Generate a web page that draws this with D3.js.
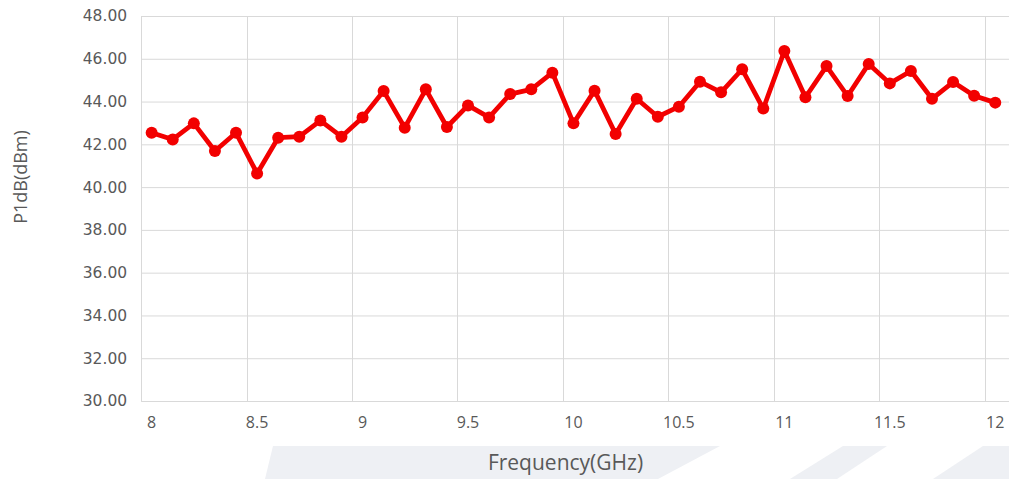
<!DOCTYPE html>
<html>
<head>
<meta charset="utf-8">
<script src="https://cdn.jsdelivr.net/npm/d3@7"></script>
<style>
  html, body { margin: 0; padding: 0; background: #ffffff; }
  svg { display: block; }
</style>
</head>
<body>
<svg id="chart" width="1009" height="479"></svg>
<script>
// ---- data ----
const frequencies = ["8","8.1","8.2","8.3","8.4","8.5","8.6","8.7","8.8","8.9",
  "9","9.1","9.2","9.3","9.4","9.5","9.6","9.7","9.8","9.9",
  "10","10.1","10.2","10.3","10.4","10.5","10.6","10.7","10.8","10.9",
  "11","11.1","11.2","11.3","11.4","11.5","11.6","11.7","11.8","11.9","12"];
const p1dB = [42.54, 42.23, 42.98, 41.69, 42.54, 40.64, 42.31, 42.36, 43.11, 42.36,
  43.26, 44.49, 42.78, 44.57, 42.81, 43.82, 43.26, 44.35, 44.57, 45.35,
  42.98, 44.51, 42.48, 44.13, 43.29, 43.76, 44.93, 44.43, 45.51, 43.67,
  46.36, 44.20, 45.66, 44.26, 45.76, 44.85, 45.43, 44.13, 44.91, 44.27, 43.95];
const xTickLabels = ["8","8.5","9","9.5","10","10.5","11","11.5","12"];
const yTicks = [30, 32, 34, 36, 38, 40, 42, 44, 46, 48];
const xTitle = "Frequency(GHz)";
const yTitle = "P1dB(dBm)";

// ---- layout ----
const svg = d3.select("#chart");
const plot = { left: 141.1, right: 1005.8, top: 16, bottom: 401 };

// decorative background stripes (watermark)
const stripes = [
  [[273,446],[720,446],[658,479],[265,479]],
  [[843,446],[887,446],[837,479],[790,479]],
  [[983,446],[1009,446],[1009,479],[933,479]]
];
svg.append("g").selectAll("polygon").data(stripes).join("polygon")
  .attr("points", d => d.map(p => p.join(",")).join(" "))
  .attr("fill", "#eef0f4");

const x = d3.scaleBand().domain(frequencies).range([plot.left, plot.right]).padding(0);
const y = d3.scaleLinear().domain([30, 48]).range([plot.bottom, plot.top]);

// horizontal gridlines + y labels
const yAxis = d3.axisLeft(y)
  .tickValues(yTicks)
  .tickFormat(d3.format(".2f"))
  .tickSizeInner(-(1009 - plot.left))
  .tickSizeOuter(0)
  .tickPadding(14);
const gy = svg.append("g").attr("transform", `translate(${plot.left},0)`).call(yAxis);
gy.select(".domain").remove();
gy.selectAll(".tick line").attr("stroke", "#d9d9d9").attr("stroke-width", 1);
gy.selectAll(".tick text")
  .attr("fill", "#595959")
  .style("font-family", "'DejaVu Sans', Verdana, sans-serif")
  .style("font-size", "15.5px");

// vertical gridlines at category boundaries every 5 categories
const vBound = frequencies.filter((d, i) => i % 5 === 0);
svg.append("g").selectAll("line").data(vBound).join("line")
  .attr("x1", d => Math.round(x(d)) + 0.5)
  .attr("x2", d => Math.round(x(d)) + 0.5)
  .attr("y1", plot.top)
  .attr("y2", plot.bottom)
  .attr("stroke", "#d9d9d9")
  .attr("stroke-width", 1);

// x labels
const xAxis = d3.axisBottom(x).tickValues(xTickLabels).tickSize(0).tickPadding(16);
const gx = svg.append("g").attr("transform", `translate(0,${plot.bottom})`).call(xAxis);
gx.select(".domain").remove();
gx.selectAll(".tick text")
  .attr("fill", "#595959")
  .style("font-family", "'Open Sans', sans-serif")
  .style("font-size", "16px");

// line + markers
const line = d3.line()
  .x((d, i) => x(frequencies[i]) + x.bandwidth() / 2)
  .y(d => y(d));
svg.append("path").datum(p1dB)
  .attr("d", line)
  .attr("fill", "none")
  .attr("stroke", "#f20000")
  .attr("stroke-width", 4.75)
  .attr("stroke-linejoin", "round");
svg.append("g").selectAll("circle").data(p1dB).join("circle")
  .attr("cx", (d, i) => x(frequencies[i]) + x.bandwidth() / 2)
  .attr("cy", d => y(d))
  .attr("r", 6)
  .attr("fill", "#f20000");

// axis titles
svg.append("text")
  .attr("x", 565.5).attr("y", 470)
  .attr("text-anchor", "middle")
  .attr("fill", "#595959")
  .style("font-family", "'Open Sans', sans-serif")
  .style("font-size", "21px")
  .text(xTitle);
svg.append("text")
  .attr("transform", "translate(27,177) rotate(-90)")
  .attr("text-anchor", "middle")
  .attr("fill", "#595959")
  .style("font-family", "'Open Sans', sans-serif")
  .style("font-size", "18px")
  .text(yTitle);
</script>
</body>
</html>
